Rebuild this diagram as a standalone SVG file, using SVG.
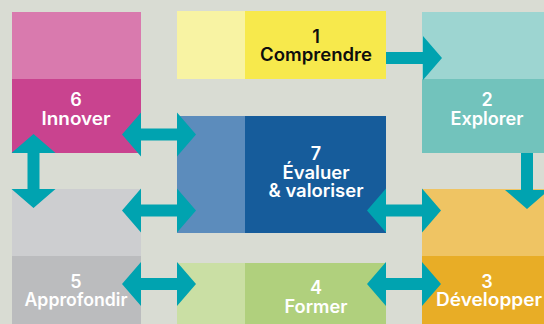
<svg xmlns="http://www.w3.org/2000/svg" width="544" height="324" viewBox="0 0 544 324">
<style>
text{font-family:"Inter","Liberation Sans",sans-serif;font-weight:600;font-size:18px;text-anchor:middle;fill:#fff}
.k{fill:#0d0d0d}
.a{fill:#00a3b0}
</style>
<defs>
<path id="h" class="a" d="M0 -6H37V-22L56 0L37 22V6H0Z"/>
<path id="d" class="a" d="M-37 0L-18 -22V-6H18V-22L37 0L18 22V6H-18V22Z"/>
</defs>
<rect width="544" height="324" fill="#d9dcd3"/>
<g id="node-1"><rect x="177" y="11" width="68" height="68" fill="#f8f3a3"/><rect x="245" y="11" width="141" height="68" fill="#f7e94c"/><text class="k" x="316" y="43">1</text><text class="k" x="316" y="61" textLength="112" lengthAdjust="spacingAndGlyphs">Comprendre</text></g>
<g id="node-2"><rect x="422" y="12" width="122" height="67" fill="#9dd5d1"/><rect x="422" y="79" width="122" height="74" fill="#72c3bc"/><text x="487" y="106">2</text><text x="487" y="125" textLength="73" lengthAdjust="spacingAndGlyphs">Explorer</text></g>
<g id="node-3"><rect x="422" y="189" width="122" height="67" fill="#efc463"/><rect x="422" y="256" width="122" height="68" fill="#e8ad26"/><text x="487" y="288">3</text><text x="489" y="306" textLength="106" lengthAdjust="spacingAndGlyphs">Développer</text></g>
<g id="node-4"><rect x="177" y="263" width="68" height="61" fill="#cadfa4"/><rect x="245" y="263" width="141" height="61" fill="#b0d07d"/><text x="316" y="294">4</text><text x="316" y="313" textLength="63" lengthAdjust="spacingAndGlyphs">Former</text></g>
<g id="node-5"><rect x="12" y="189" width="129" height="67" fill="#cdced0"/><rect x="12" y="256" width="129" height="68" fill="#bbbcbe"/><text x="76" y="288">5</text><text x="76" y="306" textLength="103" lengthAdjust="spacingAndGlyphs">Approfondir</text></g>
<g id="node-6"><rect x="12" y="12" width="129" height="67" fill="#d97aae"/><rect x="12" y="79" width="129" height="74" fill="#c9438f"/><text x="76" y="106">6</text><text x="76" y="125" textLength="69" lengthAdjust="spacingAndGlyphs">Innover</text></g>
<g id="node-7"><rect x="177" y="116" width="68" height="117" fill="#5c8cbc"/><rect x="245" y="116" width="141" height="117" fill="#165c9b"/><text x="316" y="160">7</text><text x="316" y="179" textLength="67" lengthAdjust="spacingAndGlyphs">Évaluer</text><text x="316" y="197" textLength="95" lengthAdjust="spacingAndGlyphs">&amp; valoriser</text></g>
<g id="connectors">
<use href="#h" transform="translate(386 58)"/>
<use href="#d" transform="translate(159 134.500)"/>
<use href="#d" transform="translate(159 210.500)"/>
<use href="#d" transform="translate(159 284)"/>
<use href="#d" transform="translate(404 210.500)"/>
<use href="#d" transform="translate(404 284)"/>
<use href="#d" transform="translate(33.500 171) rotate(90)"/>
<use href="#h" transform="translate(527 153) rotate(90)"/>
</g>
</svg>
